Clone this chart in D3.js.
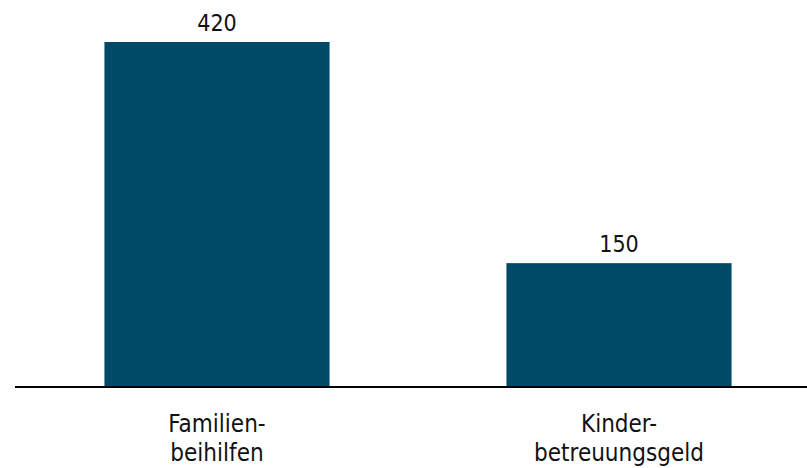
<!DOCTYPE html>
<html>
<head>
<meta charset="utf-8">
<script src="https://cdn.jsdelivr.net/npm/d3@7"></script>
<style>
  body { margin: 0; background: #fff; }
  .chart text { font-family: Tahoma, "DejaVu Sans Condensed", "DejaVu Sans", sans-serif; fill: #111; }
</style>
</head>
<body>
<div class="chart"></div>
<script>
// data
const categories = [['Familien-', 'beihilfen'], ['Kinder-', 'betreuungsgeld']]
const values = [420, 150]

const width = 807
const height = 468
const baseY = 386

const svg = d3.select('.chart')
  .append('svg')
  .attr('width', width)
  .attr('height', height)

const x = d3.scaleBand()
  .domain(d3.range(values.length))
  .range([16, 820])
  .paddingInner(0.44)
  .paddingOuter(0.22)

const y = d3.scaleLinear()
  .domain([0, 420])
  .range([baseY, 42])

// bars
svg.append('g')
  .selectAll('rect')
  .data(values)
  .join('rect')
  .attr('x', (d, i) => x(i))
  .attr('y', d => y(d))
  .attr('width', x.bandwidth())
  .attr('height', d => baseY - y(d))
  .attr('fill', '#004a67')

// value labels
svg.append('g')
  .selectAll('text')
  .data(values)
  .join('text')
  .attr('x', (d, i) => x(i) + x.bandwidth() / 2)
  .attr('y', d => y(d) - 11)
  .attr('text-anchor', 'middle')
  .style('font-size', '23px')
  .text(d => d)

// baseline
svg.append('line')
  .attr('x1', 15)
  .attr('x2', 807)
  .attr('y1', baseY + 1)
  .attr('y2', baseY + 1)
  .attr('stroke', '#000')
  .attr('stroke-width', 2)

// category labels
const cat = svg.append('g')
  .selectAll('text')
  .data(categories)
  .join('text')
  .attr('text-anchor', 'middle')
  .attr('x', (d, i) => x(i) + x.bandwidth() / 2)
  .attr('y', 432)
  .style('font-size', '24px')

cat.selectAll('tspan')
  .data(d => d)
  .join('tspan')
  .attr('x', function() { return d3.select(this.parentNode).attr('x') })
  .attr('dy', (d, i) => i ? 29 : 0)
  .text(d => d)
</script>
</body>
</html>
